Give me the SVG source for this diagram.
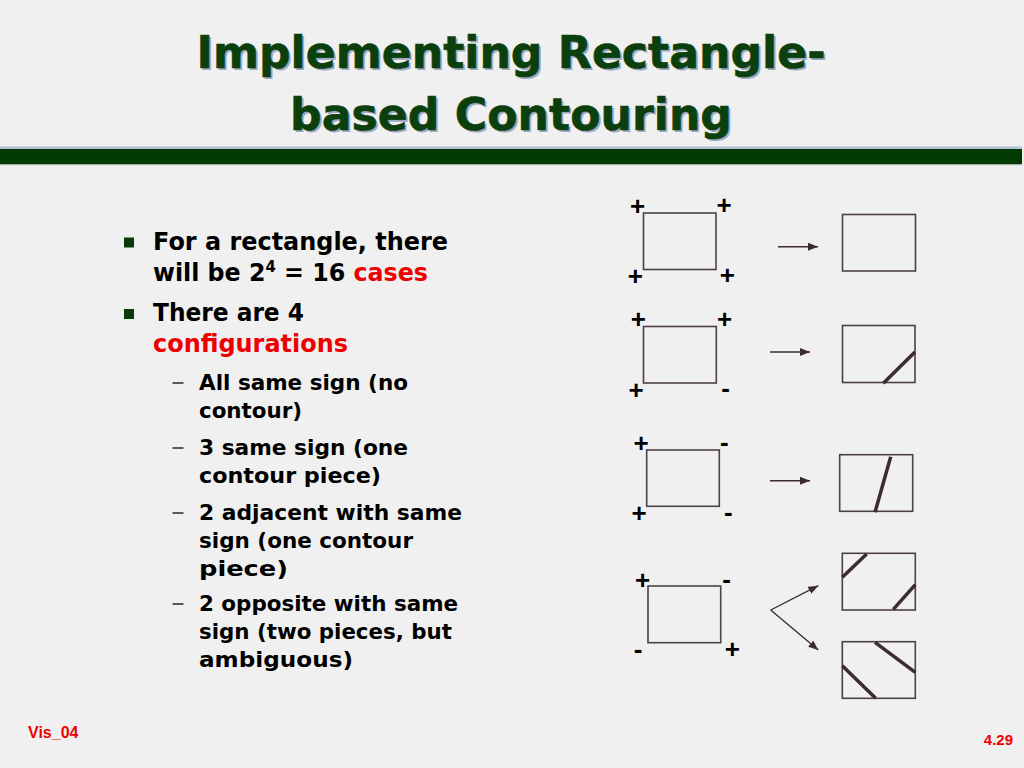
<svg xmlns="http://www.w3.org/2000/svg" width="1024" height="768" viewBox="0 0 1024 768">
<defs>
<style>
.title{font-family:"DejaVu Sans","Liberation Sans",sans-serif;font-weight:bold;font-size:44px;text-anchor:middle}
.tfill{fill:#0b3f0d;stroke:#0b3f0d;stroke-width:0.6}
.tshadow{fill:#9ca8c0}
.b1{font-family:"DejaVu Sans","Liberation Sans",sans-serif;font-weight:bold;font-size:24px;fill:#000}
.b2{font-family:"DejaVu Sans","Liberation Sans",sans-serif;font-weight:bold;font-size:21px;fill:#000}
.dash{stroke:#2a3a2a;stroke-width:1.6}
.red{fill:#ee0000}
.sq{fill:#0a3a0a}
.sign{font-family:"Liberation Sans",Arial,sans-serif;font-weight:bold;font-size:26px;fill:#000;text-anchor:middle}
.cell{fill:none;stroke:#4d4046;stroke-width:1.6}
.contour{stroke:#3c2a35;stroke-width:3.5;fill:none}
.arrow{stroke:#3c2a35;stroke-width:1.4;fill:none;marker-end:url(#ah)}
.foot{font-family:"Liberation Sans",Arial,sans-serif;font-weight:bold;fill:#ee0000}
</style>
<marker id="ah" markerUnits="userSpaceOnUse" markerWidth="10" markerHeight="8" refX="10" refY="4" orient="auto">
<path d="M0,0 L10,4 L0,8 z" fill="#3c2a35"/>
</marker>
</defs>
<rect x="0" y="0" width="1024" height="768" fill="#f0f0f0"/>

<g id="title">
<text class="title tshadow" x="513" y="70" textLength="629" lengthAdjust="spacingAndGlyphs">Implementing Rectangle-</text>
<text class="title tshadow" x="513" y="132" textLength="442" lengthAdjust="spacingAndGlyphs">based Contouring</text>
<text class="title tfill" x="511" y="68" textLength="629" lengthAdjust="spacingAndGlyphs">Implementing Rectangle-</text>
<text class="title tfill" x="511" y="130" textLength="442" lengthAdjust="spacingAndGlyphs">based Contouring</text>
</g>

<g id="title-bar">
<rect x="0" y="146.5" width="1022" height="3" fill="#b4c0d6"/>
<rect x="0" y="149" width="1022" height="15" fill="#033a03"/>
<rect x="0" y="164" width="1022" height="1.2" fill="#9fb09f"/>
</g>

<g id="bullets">
<rect class="sq" x="124" y="237.5" width="10" height="10"/>
<text class="b1" x="153" y="250" textLength="295" lengthAdjust="spacingAndGlyphs">For a rectangle, there</text>
<text class="b1" x="153" y="281" textLength="275" lengthAdjust="spacingAndGlyphs">will be 2<tspan font-size="15" dy="-9">4</tspan><tspan dy="9"> = 16 </tspan><tspan class="red">cases</tspan></text>
<rect class="sq" x="124" y="309" width="10" height="10"/>
<text class="b1" x="153" y="321" textLength="151" lengthAdjust="spacingAndGlyphs">There are 4</text>
<text class="b1 red" x="153" y="352" textLength="195" lengthAdjust="spacingAndGlyphs">configurations</text>

<line class="dash" x1="172.5" y1="383" x2="183.5" y2="383"/>
<text class="b2" x="199" y="390" textLength="209" lengthAdjust="spacingAndGlyphs">All same sign (no</text>
<text class="b2" x="199" y="418" textLength="103" lengthAdjust="spacingAndGlyphs">contour)</text>
<line class="dash" x1="172.5" y1="448" x2="183.5" y2="448"/>
<text class="b2" x="199" y="455" textLength="209" lengthAdjust="spacingAndGlyphs">3 same sign (one</text>
<text class="b2" x="199" y="483" textLength="182" lengthAdjust="spacingAndGlyphs">contour piece)</text>
<line class="dash" x1="172.5" y1="513" x2="183.5" y2="513"/>
<text class="b2" x="199" y="520" textLength="263" lengthAdjust="spacingAndGlyphs">2 adjacent with same</text>
<text class="b2" x="199" y="548" textLength="214" lengthAdjust="spacingAndGlyphs">sign (one contour</text>
<text class="b2" x="199" y="576" textLength="89" lengthAdjust="spacingAndGlyphs">piece)</text>
<line class="dash" x1="172.5" y1="604" x2="183.5" y2="604"/>
<text class="b2" x="199" y="611" textLength="259" lengthAdjust="spacingAndGlyphs">2 opposite with same</text>
<text class="b2" x="199" y="639" textLength="253" lengthAdjust="spacingAndGlyphs">sign (two pieces, but</text>
<text class="b2" x="199" y="667" textLength="154" lengthAdjust="spacingAndGlyphs">ambiguous)</text>
</g>

<g id="case1-in">
<rect class="cell" x="643.5" y="213" width="72.5" height="56.5"/>
<text class="sign" x="637.7" y="214.8">+</text>
<text class="sign" x="724" y="214.1">+</text>
<text class="sign" x="635.3" y="285.1">+</text>
<text class="sign" x="727.3" y="284.1">+</text>
</g>
<g id="case1-out">
<rect class="cell" x="842.5" y="214.5" width="73" height="56.5"/>
</g>

<g id="case2-in">
<rect class="cell" x="643.5" y="326.5" width="72.8" height="56.5"/>
<text class="sign" x="638.3" y="328.4">+</text>
<text class="sign" x="724.7" y="327.8">+</text>
<text class="sign" x="636" y="399.1">+</text>
<text class="sign" x="725.7" y="397.2">-</text>
</g>
<g id="case2-out">
<rect class="cell" x="842.5" y="325.5" width="72.5" height="57"/>
<line class="contour" x1="883.3" y1="383.3" x2="915" y2="352"/>
</g>

<g id="case3-in">
<rect class="cell" x="646.7" y="450" width="72.6" height="56.3"/>
<text class="sign" x="641" y="452.4">+</text>
<text class="sign" x="724.3" y="450.9">-</text>
<text class="sign" x="639" y="522.4">+</text>
<text class="sign" x="728.3" y="520.9">-</text>
</g>
<g id="case3-out">
<rect class="cell" x="839.7" y="454.7" width="73" height="56.6"/>
<line class="contour" x1="890.7" y1="456.7" x2="875" y2="512.3"/>
</g>

<g id="case4-in">
<rect class="cell" x="648" y="586" width="72.7" height="56.7"/>
<text class="sign" x="642.7" y="589.4">+</text>
<text class="sign" x="726.7" y="587.9">-</text>
<text class="sign" x="638" y="657.6">-</text>
<text class="sign" x="732.3" y="657.8">+</text>
</g>
<g id="case4-out-a">
<rect class="cell" x="842.3" y="553.3" width="73" height="56.7"/>
<line class="contour" x1="842.3" y1="577.3" x2="866.7" y2="554"/>
<line class="contour" x1="893.3" y1="609.3" x2="915.3" y2="584.7"/>
</g>
<g id="case4-out-b">
<rect class="cell" x="842.3" y="641.7" width="73" height="56.6"/>
<line class="contour" x1="842.3" y1="665.7" x2="875.7" y2="698.3"/>
<line class="contour" x1="875" y1="642.3" x2="915.3" y2="672.3"/>
</g>

<g id="connectors">
<line class="arrow" x1="778" y1="246.7" x2="818" y2="246.7"/>
<line class="arrow" x1="770" y1="352" x2="810" y2="352"/>
<line class="arrow" x1="770" y1="480.7" x2="810" y2="480.7"/>
<line class="arrow" x1="770.7" y1="610" x2="818.3" y2="585.7"/>
<line class="arrow" x1="770.7" y1="610" x2="818.3" y2="650"/>
</g>

<g id="footer">
<text class="foot" x="28" y="738" font-size="16">Vis_04</text>
<text class="foot" x="1013" y="745" font-size="15" text-anchor="end">4.29</text>
</g>
</svg>
